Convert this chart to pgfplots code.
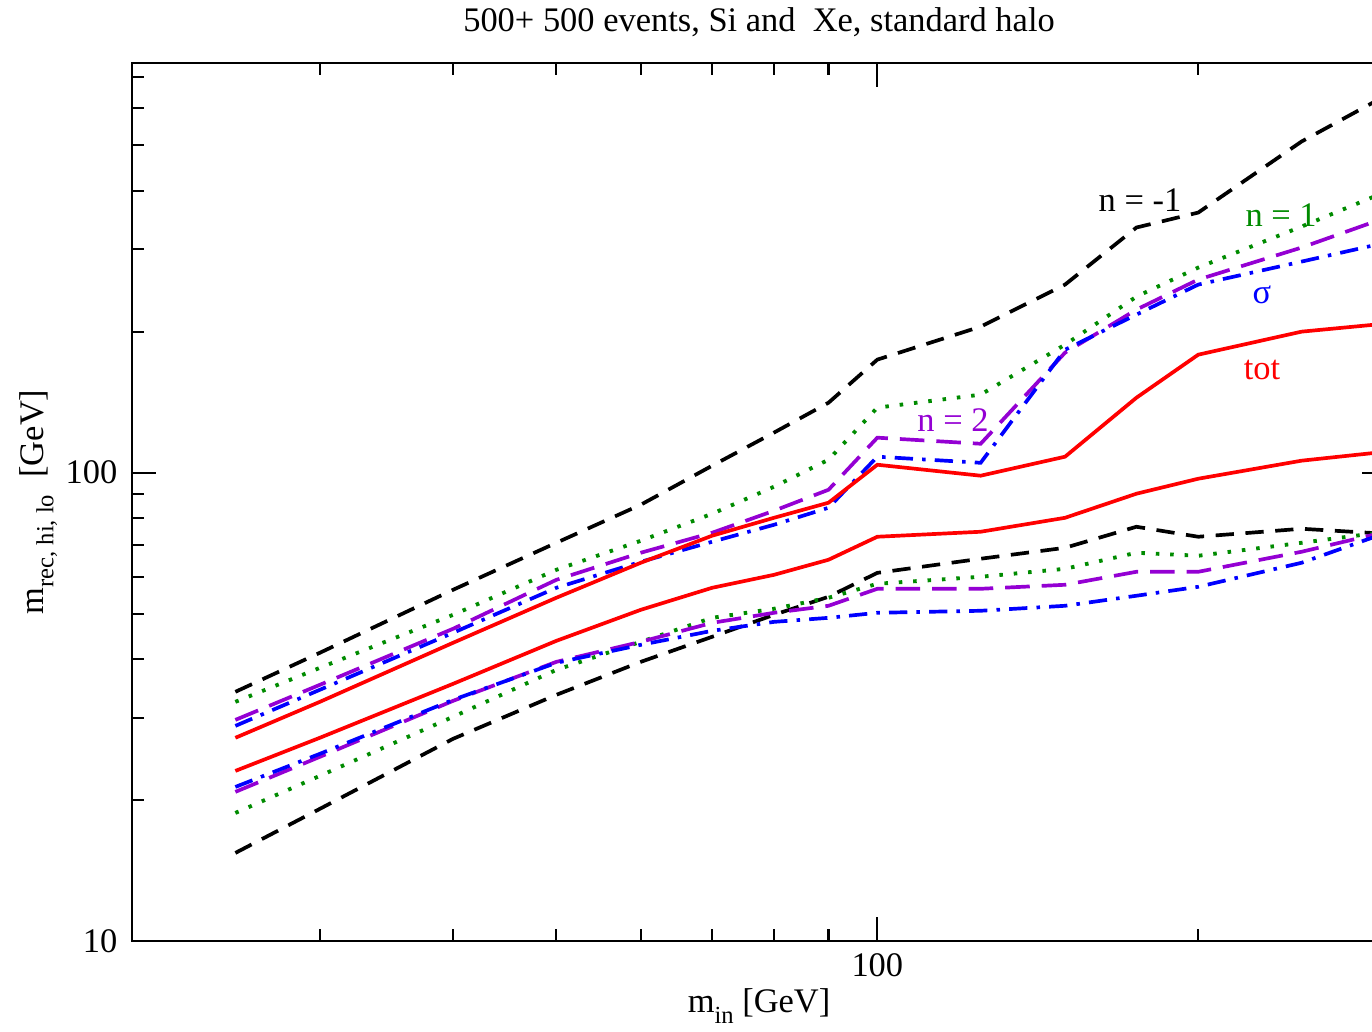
\documentclass[border=0pt]{standalone}
\usepackage{fontspec}
\setmainfont{Liberation Serif}
\usepackage{pgfplots}
\pgfplotsset{compat=1.18}
\usepackage{pgfplotstable}
\definecolor{ggreen}{RGB}{0,139,0}
\definecolor{gviolet}{RGB}{148,0,211}
\definecolor{gblue}{RGB}{0,0,255}
\definecolor{gred}{RGB}{255,0,0}

\pgfplotstableread{
x   bu    bl    gu    gl    pu    pl    su    sl    ru    rl
25  34.05 15.42 32.41 18.77 29.66 20.82 28.80 21.33 27.16 23.08
30  41.25 19.15 38.31 22.52 35.24 24.73 34.39 25.10 32.41 27.16
40  56.23 27.02 49.72 30.11 46.42 32.57 45.51 32.73 43.33 35.41
50  70.86 33.55 62.04 37.94 59.06 39.46 56.79 39.27 54.07 43.75
60  85.44 39.46 71.56 43.54 67.47 43.54 64.54 42.90 64.23 50.96
70  103.5 44.63 81.72 48.99 74.44 47.80 71.22 45.96 73.36 56.79
80  121.8 49.72 93.34 51.22 82.94 50.22 77.43 48.03 80.12 60.53
90  141.1 54.33 106.6 54.07 91.97 51.98 84.18 48.99 86.29 65.19
100 174.4 61.12 137.7 57.92 118.8 56.51 108.2 50.22 104.0 72.99
125 205.1 65.51 146.8 59.95 115.3 56.51 105.0 50.72 98.54 74.81
150 252.2 69.14 187.7 62.35 180.5 57.64 183.1 51.98 108.2 80.12
175 333.9 76.67 237.7 67.47 223.0 61.44 217.6 54.61 144.6 90.19
200 359.4 72.99 274.2 66.48 258.5 61.44 252.2 57.07 178.7 97.09
250 509.7 75.92 335.5 70.86 302.6 67.80 282.4 64.23 200.1 106.1
300 639.2 74.06 398.4 74.81 350.7 74.81 310.1 74.44 208.2 110.9
}\datatab

\begin{document}
\begin{tikzpicture}
\begin{axis}[
  xmode=log, ymode=log,
  scale only axis, width=12.54cm, height=8.78cm,
  xmin=20, xmax=300, ymin=10, ymax=750,
  xtick={100}, xticklabels={100},
  minor xtick={30,40,50,60,70,80,90,200,300},
  ytick={10,100}, yticklabels={10,100},
  minor ytick={20,30,40,50,60,70,80,90,200,300,400,500,600,700},
  tick align=inside,
  major tick length=0.24cm, minor tick length=0.12cm,
  tick style={black, line width=0.6pt},
  axis line style={line width=0.6pt},
  font=\fontsize{9.8}{11.5}\selectfont,
  xticklabel style={anchor=base, yshift=-0.36cm, inner sep=0pt},
  yticklabel style={anchor=east, xshift=-0.14cm, inner sep=0pt},
  every axis title shift=0pt,
  title={500+ 500 events, Si and\ \ Xe, standard halo},
  title style={at={(0.5,1.0353)}, anchor=base, inner sep=0pt},
  xlabel={m\raisebox{-0.75ex}{\fontsize{7}{8}\selectfont in} [GeV]},
  xlabel style={at={(0.5,-0.0809)}, anchor=base, inner sep=0pt},
  ylabel={m\raisebox{-0.6ex}{\fontsize{7}{8}\selectfont rec, hi, lo}\ \ [GeV]},
  ylabel style={at={(-0.0702,0.5)}, anchor=base, inner sep=0pt},
  every axis plot/.append style={line width=1.05pt},
]
\coordinate (O) at (rel axis cs:0,0);
\addplot[black, dash pattern=on 5.2pt off 3.3pt] table[x=x,y=bu]{\datatab};
\addplot[black, dash pattern=on 5.2pt off 3.3pt] table[x=x,y=bl]{\datatab};
\addplot[ggreen, line width=1.1pt, dash pattern=on 1pt off 3.1pt] table[x=x,y=gu]{\datatab};
\addplot[ggreen, line width=1.1pt, dash pattern=on 1pt off 3.1pt] table[x=x,y=gl]{\datatab};
\addplot[gviolet, dash pattern=on 7pt off 3.4pt] table[x=x,y=pu]{\datatab};
\addplot[gviolet, dash pattern=on 7pt off 3.4pt] table[x=x,y=pl]{\datatab};
\addplot[gblue, dash pattern=on 5.2pt off 2.6pt on 1pt off 2.6pt] table[x=x,y=su]{\datatab};
\addplot[gblue, dash pattern=on 5.2pt off 2.6pt on 1pt off 2.6pt] table[x=x,y=sl]{\datatab};
\addplot[gred] table[x=x,y=ru]{\datatab};
\addplot[gred] table[x=x,y=rl]{\datatab};
\node[text=black] at (rel axis cs:0.8038,0.8440) {n = -1};
\node[text=ggreen] at (rel axis cs:0.9163,0.8269) {n = 1};
\node[text=gblue] at (rel axis cs:0.9011,0.7358) {σ};
\node[text=gred] at (rel axis cs:0.9011,0.6503) {tot};
\node[text=gviolet] at (rel axis cs:0.6547,0.5934) {n = 2};
\end{axis}
\pgfresetboundingbox
\path[use as bounding box] ([shift={(-1.32cm,-0.90cm)}]O) rectangle ([shift={(12.40cm,9.41cm)}]O);
\end{tikzpicture}
\end{document}
